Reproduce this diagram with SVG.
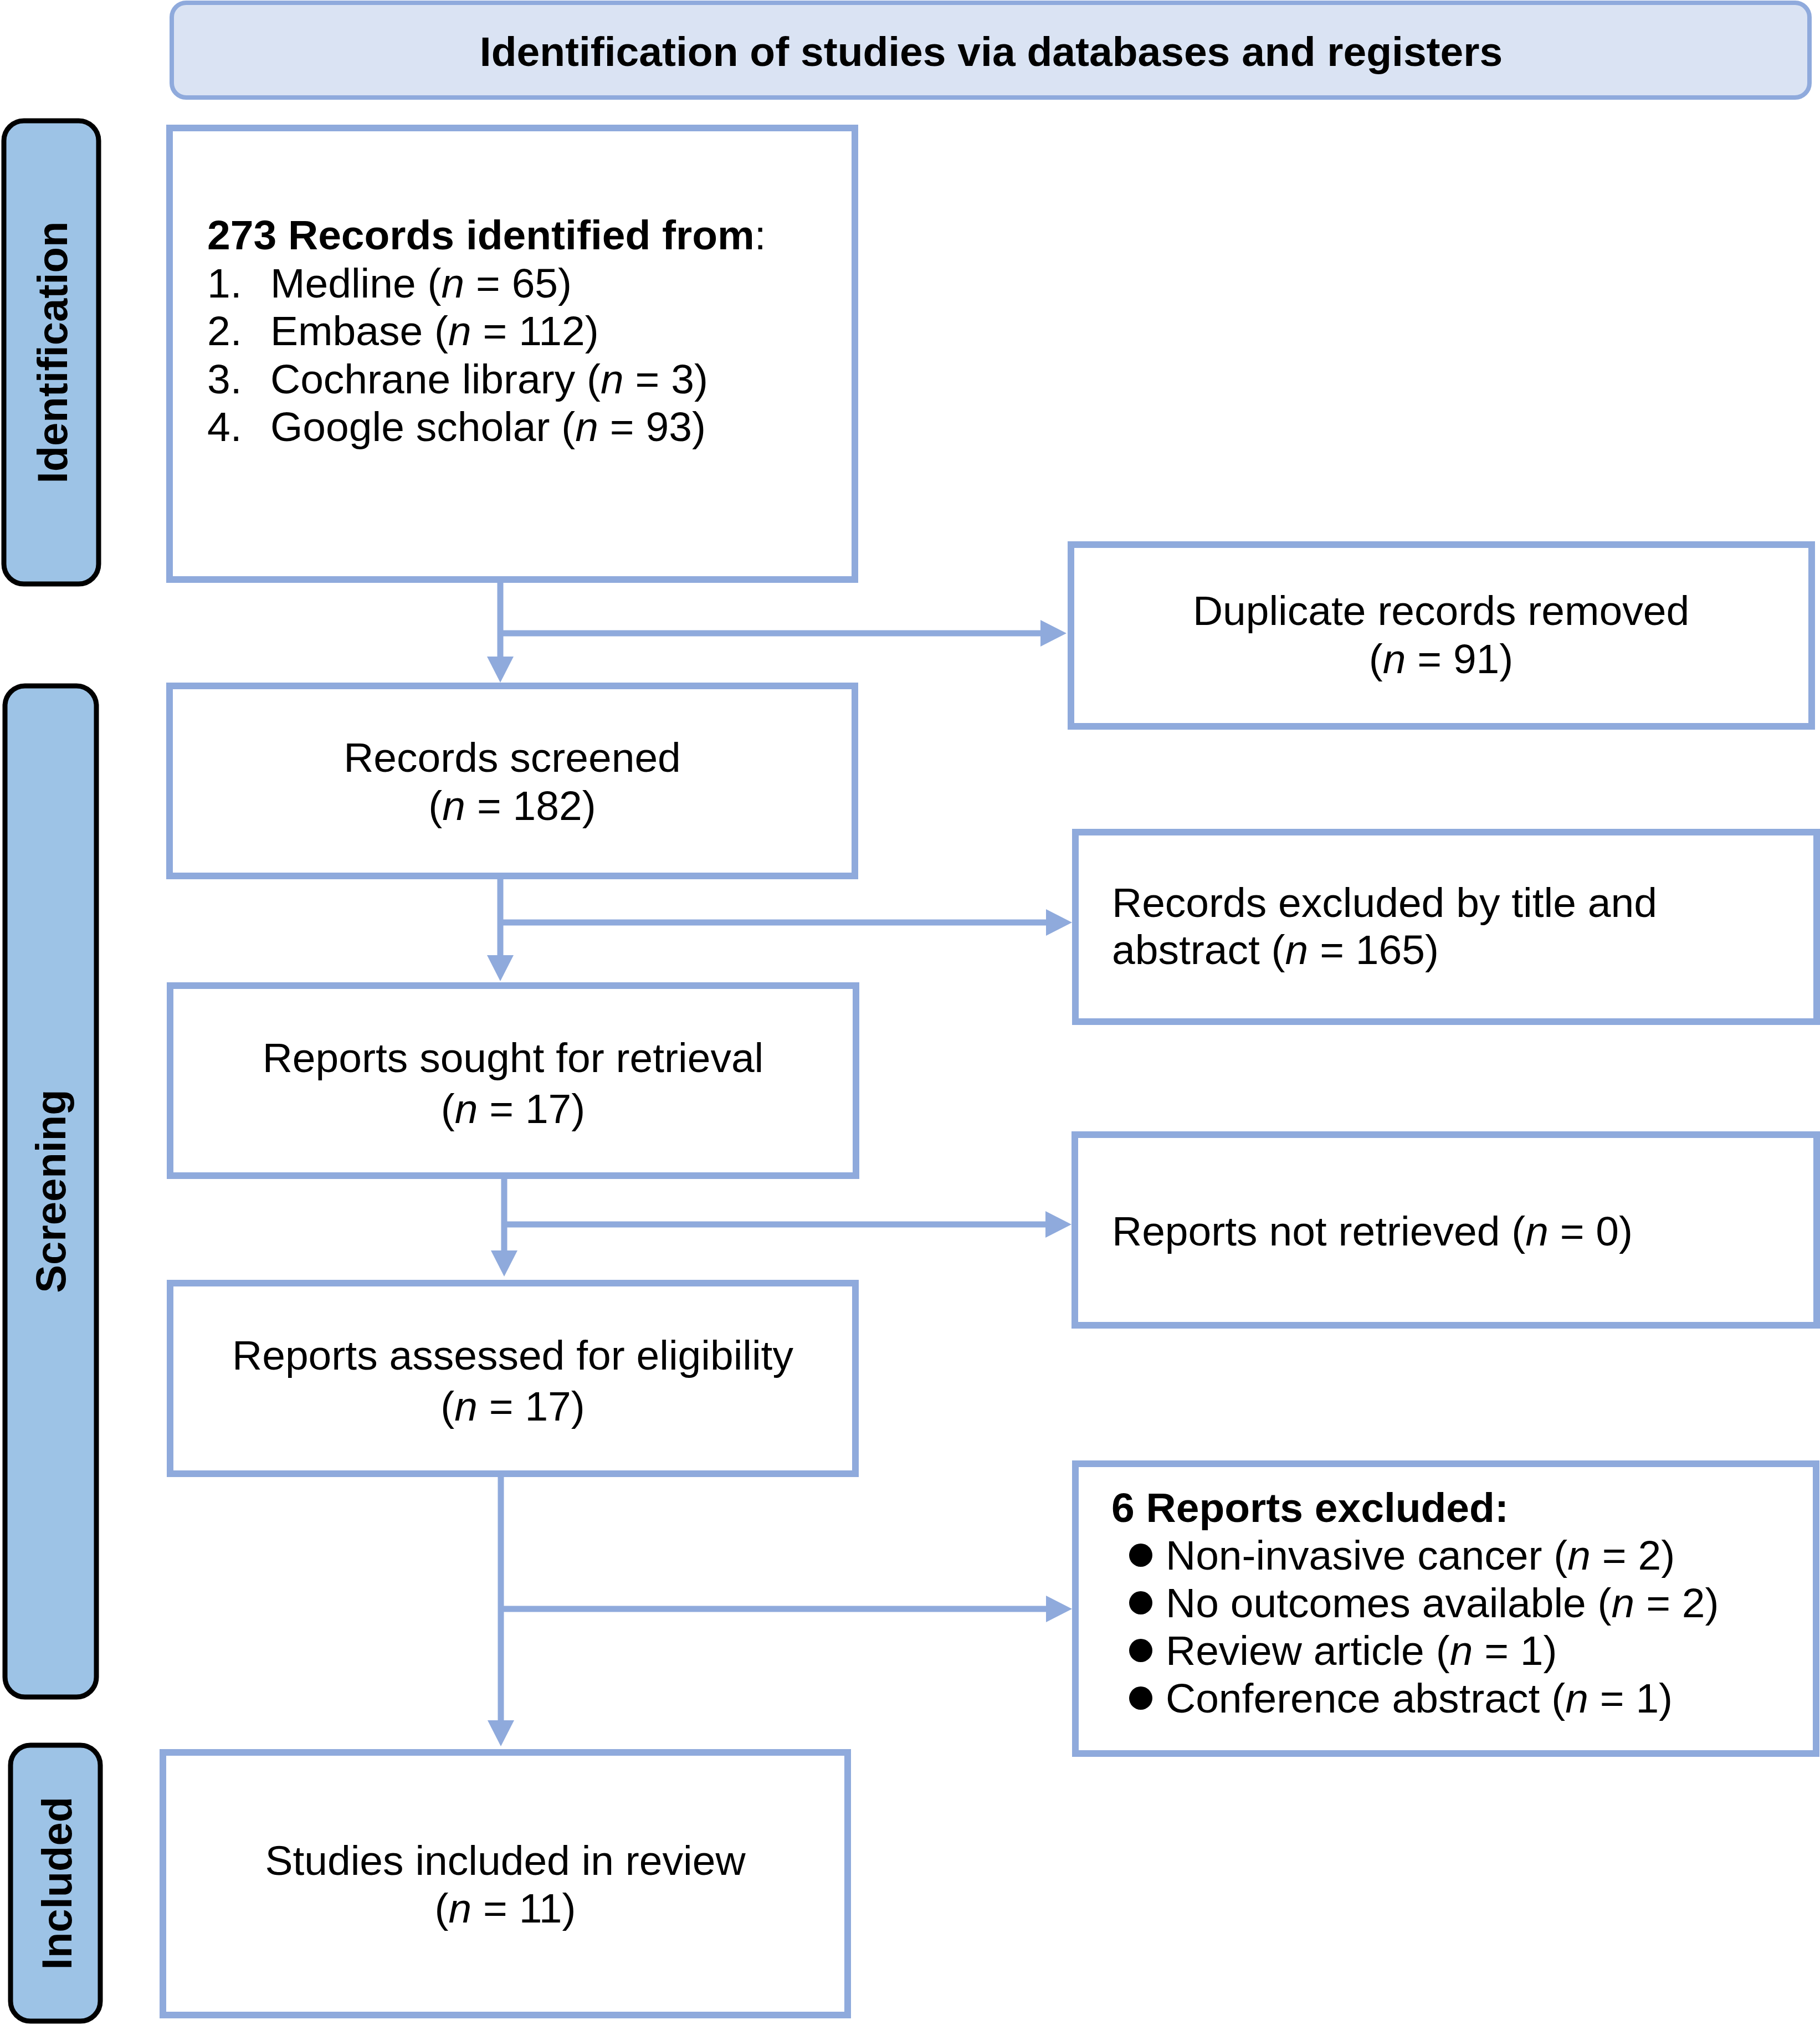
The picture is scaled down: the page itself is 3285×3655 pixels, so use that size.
<svg xmlns="http://www.w3.org/2000/svg" width="3285" height="3655" viewBox="0 0 3285 3655">
<style>
.box{fill:#ffffff;stroke:#8faadc;stroke-width:12}
.lab{fill:#9dc3e6;stroke:#000000;stroke-width:9}
.hdr{fill:#dae3f3;stroke:#8faadc;stroke-width:8}
.t{font-family:"Liberation Sans",Arial,sans-serif;font-size:75px;fill:#000000}
.c{text-anchor:middle}
.b{font-weight:bold}
.lt{font-family:"Liberation Sans",Arial,sans-serif;font-size:76px;font-weight:bold;fill:#000000;text-anchor:middle}
.con{fill:none;stroke:#8faadc;stroke-width:11}
</style>
<defs>
<marker id="ah" markerUnits="userSpaceOnUse" markerWidth="48" markerHeight="48" refX="0" refY="24" orient="auto">
<path d="M0,0 L47,24 L0,48 z" fill="#8faadc"/>
</marker>
</defs>
<rect width="3285" height="3655" fill="#ffffff"/>
<g id="header">
<rect class="hdr" x="310" y="5" width="2956" height="171" rx="26"/>
<text class="t b c" x="1789" y="119" font-size="76">Identification of studies via databases and registers</text>
</g>
<g id="label-identification">
<rect class="lab" x="7" y="218" width="171" height="836" rx="36"/>
<text class="lt" transform="translate(94,636) rotate(-90)" y="27">Identification</text>
</g>
<g id="label-screening">
<rect class="lab" x="9" y="1238" width="165" height="1825" rx="36"/>
<text class="lt" transform="translate(91,2150) rotate(-90)" y="27">Screening</text>
</g>
<g id="label-included">
<rect class="lab" x="19" y="3150" width="162" height="498" rx="36"/>
<text class="lt" transform="translate(102,3399) rotate(-90)" y="27">Included</text>
</g>
<g id="connectors">
<path class="con" d="M903,1046 V1185" marker-end="url(#ah)"/>
<path class="con" d="M903,1143 H1878" marker-end="url(#ah)"/>
<path class="con" d="M903,1581 V1724" marker-end="url(#ah)"/>
<path class="con" d="M903,1665 H1888" marker-end="url(#ah)"/>
<path class="con" d="M910,2122 V2257" marker-end="url(#ah)"/>
<path class="con" d="M910,2210 H1887" marker-end="url(#ah)"/>
<path class="con" d="M904,2660 V3105" marker-end="url(#ah)"/>
<path class="con" d="M904,2904 H1888" marker-end="url(#ah)"/>
</g>
<g id="records-identified">
<rect class="box" x="306" y="231" width="1237" height="815"/>
<text class="t" x="374" y="450"><tspan class="b">273 Records identified from</tspan>:</text>
<text class="t" x="374" y="536.5">1.</text>
<text class="t" x="488" y="536.5">Medline (<tspan font-style="italic">n</tspan> = 65)</text>
<text class="t" x="374" y="623">2.</text>
<text class="t" x="488" y="623">Embase (<tspan font-style="italic">n</tspan> = 112)</text>
<text class="t" x="374" y="709.5">3.</text>
<text class="t" x="488" y="709.5">Cochrane library (<tspan font-style="italic">n</tspan> = 3)</text>
<text class="t" x="374" y="796">4.</text>
<text class="t" x="488" y="796">Google scholar (<tspan font-style="italic">n</tspan> = 93)</text>
</g>
<g id="duplicates-removed">
<rect class="box" x="1933" y="983" width="1337" height="328"/>
<text class="t c" x="2601" y="1128">Duplicate records removed</text>
<text class="t c" x="2601" y="1215">(<tspan font-style="italic">n</tspan> = 91)</text>
</g>
<g id="records-screened">
<rect class="box" x="306" y="1238" width="1237" height="343"/>
<text class="t c" x="924.5" y="1393">Records screened</text>
<text class="t c" x="924.5" y="1480">(<tspan font-style="italic">n</tspan> = 182)</text>
</g>
<g id="records-excluded">
<rect class="box" x="1941" y="1502" width="1338" height="342"/>
<text class="t" x="2007" y="1655">Records excluded by title and</text>
<text class="t" x="2007" y="1740">abstract (<tspan font-style="italic">n</tspan> = 165)</text>
</g>
<g id="reports-sought">
<rect class="box" x="307" y="1779" width="1238" height="343"/>
<text class="t c" x="926" y="1935">Reports sought for retrieval</text>
<text class="t c" x="926" y="2027">(<tspan font-style="italic">n</tspan> = 17)</text>
</g>
<g id="reports-not-retrieved">
<rect class="box" x="1940" y="2048" width="1339" height="344"/>
<text class="t" x="2007" y="2248">Reports not retrieved (<tspan font-style="italic">n</tspan> = 0)</text>
</g>
<g id="reports-assessed">
<rect class="box" x="307" y="2316" width="1237" height="344"/>
<text class="t c" x="925.5" y="2472">Reports assessed for eligibility</text>
<text class="t c" x="925.5" y="2564">(<tspan font-style="italic">n</tspan> = 17)</text>
</g>
<g id="reports-excluded">
<rect class="box" x="1941" y="2642" width="1337" height="523"/>
<text class="t b" x="2006" y="2747">6 Reports excluded:</text>
<circle cx="2059" cy="2807" r="21"/>
<text class="t" x="2104" y="2833">Non-invasive cancer (<tspan font-style="italic">n</tspan> = 2)</text>
<circle cx="2059" cy="2893" r="21"/>
<text class="t" x="2104" y="2919">No outcomes available (<tspan font-style="italic">n</tspan> = 2)</text>
<circle cx="2059" cy="2979" r="21"/>
<text class="t" x="2104" y="3005">Review article (<tspan font-style="italic">n</tspan> = 1)</text>
<circle cx="2059" cy="3065" r="21"/>
<text class="t" x="2104" y="3091">Conference abstract (<tspan font-style="italic">n</tspan> = 1)</text>
</g>
<g id="studies-included">
<rect class="box" x="294" y="3163" width="1236" height="474"/>
<text class="t c" x="912" y="3384">Studies included in review</text>
<text class="t c" x="912" y="3470">(<tspan font-style="italic">n</tspan> = 11)</text>
</g>
</svg>
